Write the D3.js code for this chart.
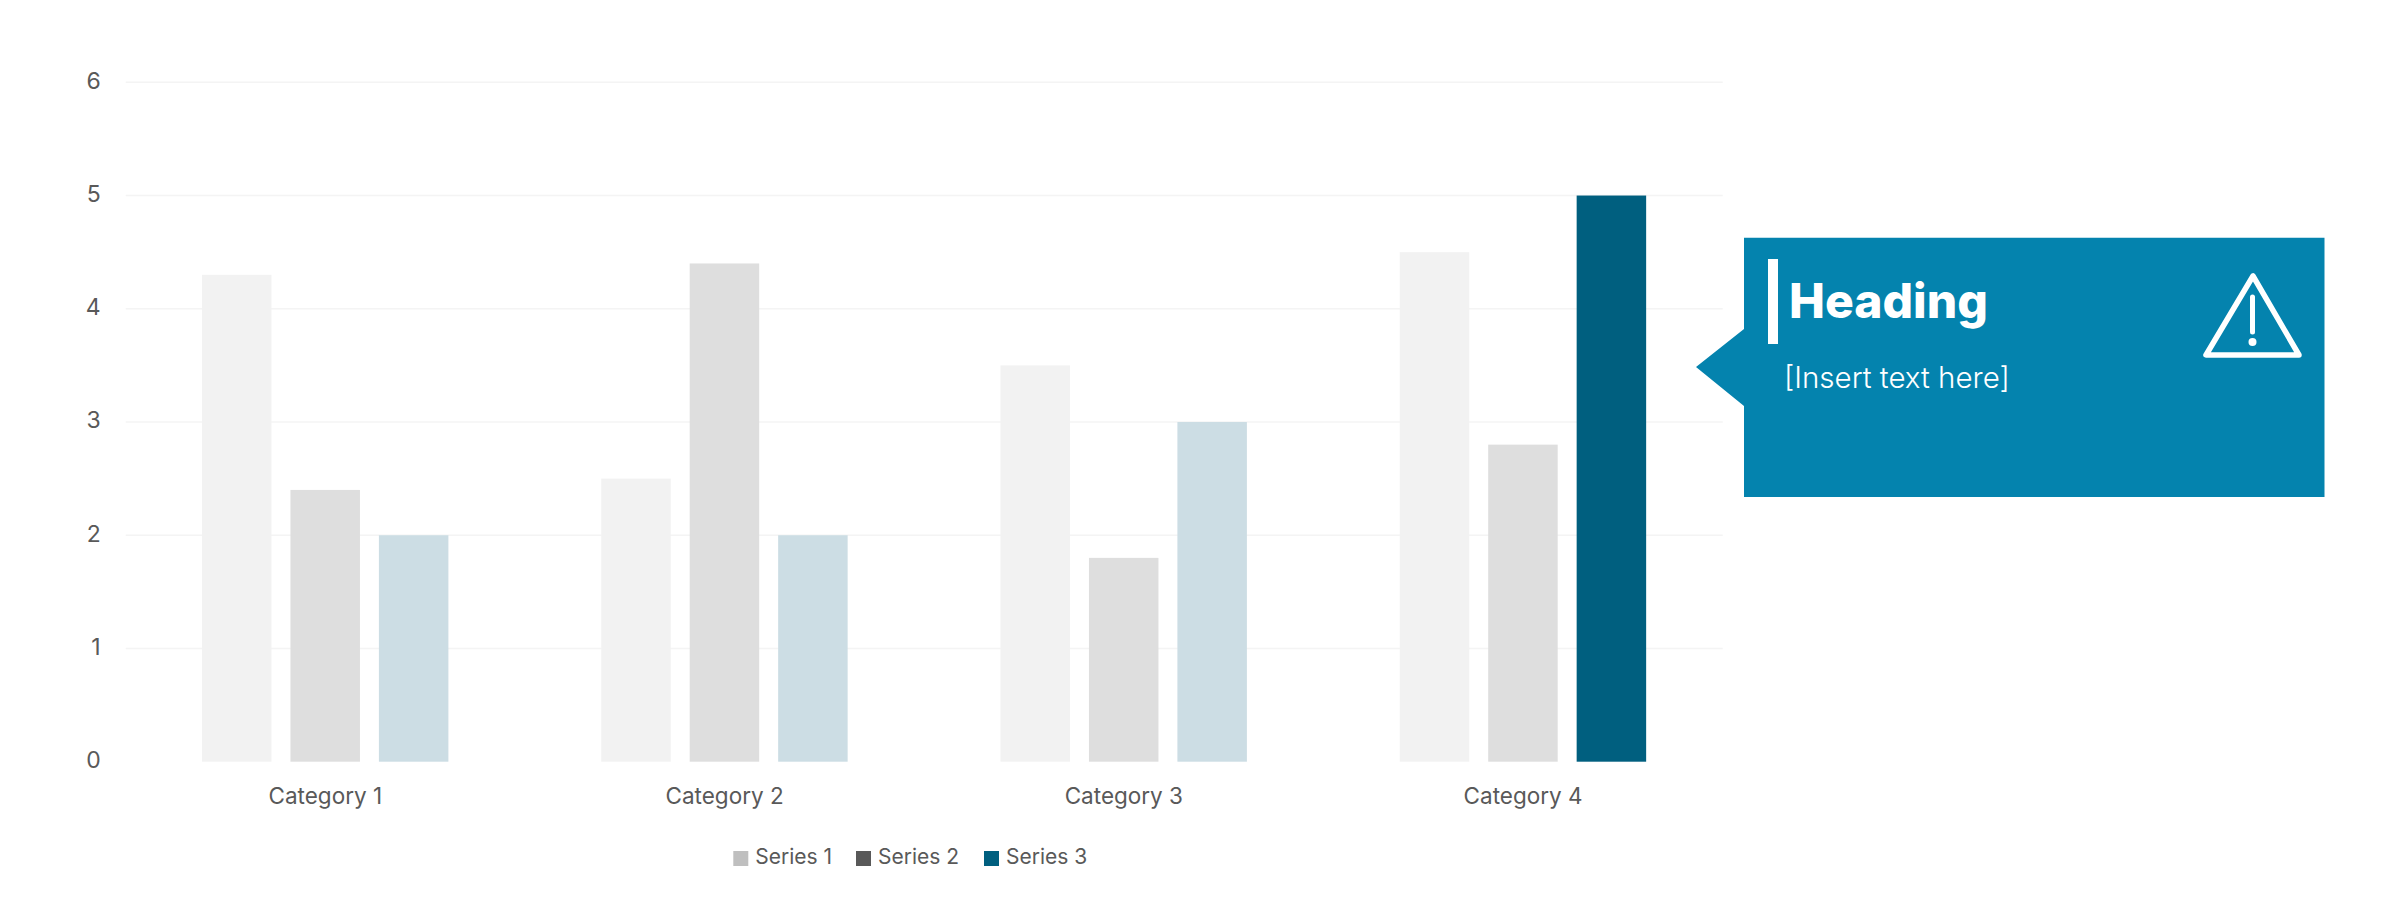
<!DOCTYPE html>
<html>
<head>
<meta charset="utf-8">
<script src="https://cdn.jsdelivr.net/npm/d3@7"></script>
<style>
html,body{margin:0;padding:0;background:#fff}
svg{display:block}
text{font-family:Inter,"Open Sans",sans-serif}
.domain{display:none}
.tick line{display:none}
</style>
</head>
<body>
<svg id="c" width="2400" height="912"></svg>
<script>
const categories = ["Category 1", "Category 2", "Category 3", "Category 4"];
const seriesNames = ["Series 1", "Series 2", "Series 3"];
const series1 = [4.3, 2.5, 3.5, 4.5];
const series2 = [2.4, 4.4, 1.8, 2.8];
const series3 = [2, 2, 3, 5];
const yTicks = [0, 1, 2, 3, 4, 5, 6];
const gridTicks = [1, 2, 3, 4, 5, 6];
const legendColors = ["#bfbfbf", "#595959", "#005f7f"];
const barColors = ["#f2f2f2", "#dedede", "#ccdde4"];
const highlight = {series: 2, category: 3};
const heading = "Heading";
const bodyText = "[Insert text here]";

const svg = d3.select("#c");
const left = 125.7, right = 1722.7, y0 = 761.7, y6 = 82.3;
const y = d3.scaleLinear().domain([0, 6]).range([y0, y6]);
const x0 = d3.scaleBand().domain(categories).range([left, right]).paddingInner(0).paddingOuter(0);
const x1 = d3.scaleBand().domain(seriesNames).range([76.3, 322.7]).paddingInner(0.2143).paddingOuter(0);
const all = [series1, series2, series3];
const textColor = "#595959";

// grid
svg.append("g").selectAll("line").data(gridTicks).join("line")
  .attr("x1", left).attr("x2", right)
  .attr("y1", d => y(d)).attr("y2", d => y(d))
  .attr("stroke", "#f4f4f4").attr("stroke-width", 1.5);

// bars
const g = svg.append("g");
all.forEach((vals, si) => {
  g.selectAll(null).data(vals).join("rect")
    .attr("x", (d, i) => x0(categories[i]) + x1(seriesNames[si]))
    .attr("width", x1.bandwidth())
    .attr("y", d => y(d))
    .attr("height", d => y0 - y(d))
    .attr("fill", (d, i) => (si === highlight.series && i === highlight.category) ? legendColors[si] : barColors[si]);
});

// axes
const ay = svg.append("g").attr("transform", `translate(${left},0)`)
  .call(d3.axisLeft(y).tickValues(yTicks).tickFormat(d3.format("d")).tickSize(0).tickPadding(25));
ay.selectAll("text").attr("font-size", 23).attr("fill", textColor).attr("font-family", "Inter").attr("dy", "0.26em");
const ax = svg.append("g").attr("transform", `translate(0,${y0})`)
  .call(d3.axisBottom(x0).tickSize(0).tickPadding(26));
ax.selectAll("text").attr("font-size", 22.5).attr("fill", textColor).attr("font-family", "Inter").attr("dy", "0.71em");

// legend
const legendSquareX = [733.3, 856, 984];
const lg = svg.append("g").selectAll("g").data(seriesNames).join("g")
  .attr("transform", (d, i) => `translate(${legendSquareX[i]},851)`);
lg.append("rect").attr("width", 15).attr("height", 15).attr("fill", (d, i) => legendColors[i]);
lg.append("text").attr("x", 22).attr("y", 13).attr("font-size", 21).attr("fill", textColor).text(d => d);

// callout
const box = svg.append("g");
box.append("path")
  .attr("d", "M1744,237.7H2324.5V497H1744V406L1696,367L1744,329Z")
  .attr("fill", "#0483ae");
box.append("rect").attr("x", 1768).attr("y", 259).attr("width", 10).attr("height", 85).attr("fill", "#fff");
box.append("text").attr("x", 1789).attr("y", 318).attr("font-size", 48).attr("font-weight", 800)
  .attr("fill", "#fff").text(heading);
box.append("text").attr("x", 1784).attr("y", 388).attr("font-size", 29.5).attr("font-weight", 300)
  .attr("fill", "#fff").text(bodyText);
// warning icon
const icon = box.append("g").attr("fill", "none").attr("stroke", "#fff").attr("stroke-linecap", "round").attr("stroke-linejoin", "round");
icon.append("path").attr("d", "M2253,276L2206,355H2299Z").attr("stroke-width", 5.5);
icon.append("line").attr("x1", 2252.5).attr("x2", 2252.5).attr("y1", 297).attr("y2", 332).attr("stroke-width", 5);
box.append("circle").attr("cx", 2252.5).attr("cy", 342).attr("r", 4).attr("fill", "#fff");
</script>
</body>
</html>
